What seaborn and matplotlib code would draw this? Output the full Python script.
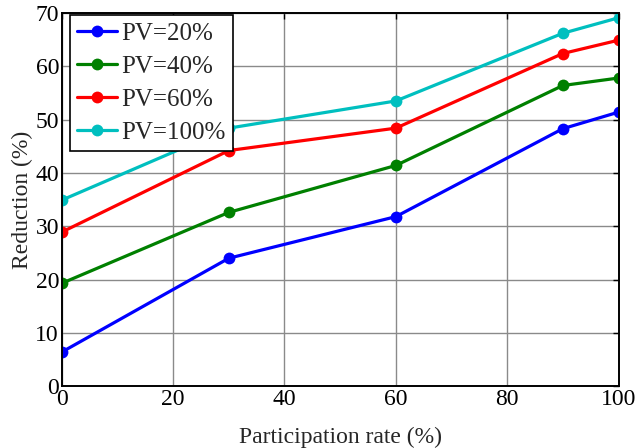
import pandas as pd
import numpy as np
import matplotlib
matplotlib.use('Agg')
import matplotlib.pyplot as plt
import seaborn as sns

# --- data ---
participation = [0, 30, 60, 90, 100]
pv_labels = ['PV=20%', 'PV=40%', 'PV=60%', 'PV=100%']
pv20 = [6.4, 24.0, 31.8, 48.3, 51.4]
pv40 = [19.3, 32.6, 41.4, 56.4, 57.8]
pv60 = [28.9, 44.2, 48.4, 62.4, 64.9]
pv100 = [34.9, 48.4, 53.5, 66.2, 69.1]
colors = ['#0000ff', '#008000', '#ff0000', '#00bfbf']

df = pd.DataFrame({
    'rate': participation * 4,
    'reduction': pv20 + pv40 + pv60 + pv100,
    'series': np.repeat(pv_labels, len(participation)),
})

sns.set_style('white')
plt.rcParams['font.family'] = ['Liberation Serif', 'DejaVu Serif']

fig = plt.figure(figsize=(6.37, 4.48), dpi=100)
ax = fig.add_axes([0.097, 0.138, 0.874, 0.833])

sns.lineplot(data=df, x='rate', y='reduction', hue='series', hue_order=pv_labels,
             palette=colors, marker='o', markersize=8.5, markeredgewidth=0,
             linewidth=2.3, ax=ax)

ax.set_xlim(0, 100)
ax.set_ylim(0, 70)
ax.set_xticks(range(0, 101, 20))
ax.set_yticks(range(0, 71, 10))
ax.grid(True, color='#8a8a8a', linewidth=1.0)
ax.set_axisbelow(True)
for s in ax.spines.values():
    s.set_color('black')
    s.set_linewidth(1.4)
ax.tick_params(direction='in', top=True, right=True, length=4, width=1,
               labelsize=17, pad=2, colors='black')
ax.set_xlabel('Participation rate (%)', fontsize=17, labelpad=12)
ax.set_ylabel('Reduction (%)', fontsize=17, labelpad=2)

leg = ax.legend(loc='upper left', fontsize=18, frameon=True, fancybox=False,
                edgecolor='black', framealpha=1, borderpad=0.3,
                labelspacing=0.42, handlelength=1.6, handletextpad=0.15,
                borderaxespad=0, bbox_to_anchor=(0.014, 0.995))
leg.get_frame().set_linewidth(1.2)

fig.savefig('out.png', dpi=100)
